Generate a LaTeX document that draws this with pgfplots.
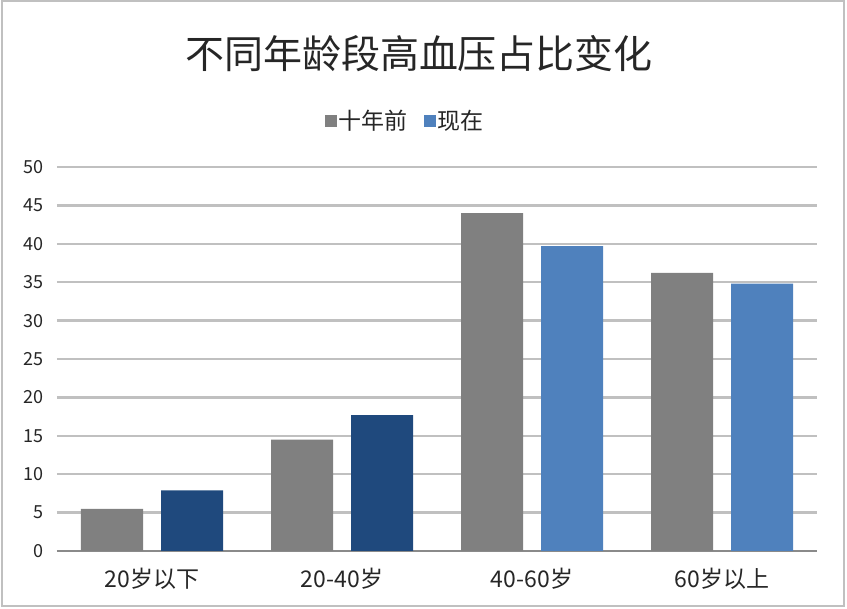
\documentclass[border=0pt]{standalone}
\usepackage{pgfplots}
\pgfplotsset{compat=1.18}
\usepackage{fontspec}
\setmainfont{Noto Sans CJK SC}
\definecolor{cgray}{HTML}{808080}
\definecolor{cdblue}{HTML}{1F497D}
\definecolor{clblue}{HTML}{4F81BD}
\definecolor{cgrid}{HTML}{C0C0C0}
\definecolor{caxis}{HTML}{8A8A8A}
\definecolor{ctext}{HTML}{262626}
\begin{document}
\begin{tikzpicture}
\useasboundingbox (0,0) rectangle (847pt,609pt);
\draw[color=cgrid, line width=2pt] (2pt,3pt) rectangle (844pt,608pt);
\node[text=ctext, font=\fontsize{39}{39}\selectfont] at (419pt,555pt) {不同年龄段高血压占比变化};
\begin{axis}[
  at={(57pt,58pt)}, anchor=south west,
  scale only axis, width=760pt, height=384pt,
  xmin=-0.5, xmax=3.5, ymin=0, ymax=50,
  xtick={0,1,2,3},
  xticklabels={20岁以下,20-40岁,40-60岁,60岁以上},
  ytick={0,5,...,50},
  ymajorgrids,
  major grid style={draw=cgrid, line width=2.5pt},
  axis x line*=bottom, axis y line*=left,
  y axis line style={draw=none},
  x axis line style={draw=caxis, line width=2pt, -},
  major tick length=0pt,
  /pgf/number format/assume math mode=true,
  yticklabel style={font=\fontsize{18}{18}\selectfont, text=ctext, xshift=-10pt},
  xticklabel style={font=\fontsize{23}{23}\selectfont, text=ctext, yshift=-14pt},
  legend style={at={(axis description cs:0.458,1.12)}, anchor=center, draw=none,
    font=\fontsize{23}{23}\selectfont, text=ctext, legend columns=2,
    /tikz/every even column/.append style={column sep=14pt}},
  legend image code/.code={\fill[#1] (0pt,-6pt) rectangle (12pt,6pt);},
]
\addplot[ybar, bar width=62pt, bar shift=-40pt, fill=cgray, draw=none]
  coordinates {(0,5.5) (1,14.5) (2,44) (3,36.2)};
\addlegendentry{十年前}
\addplot[ybar, bar width=62pt, bar shift=40pt, fill=clblue, draw=none]
  coordinates {(2,39.7) (3,34.8)};
\addlegendentry{现在}
\addplot[ybar, bar width=62pt, bar shift=40pt, fill=cdblue, draw=none, forget plot]
  coordinates {(0,7.9) (1,17.7)};
\end{axis}
\end{tikzpicture}
\end{document}
